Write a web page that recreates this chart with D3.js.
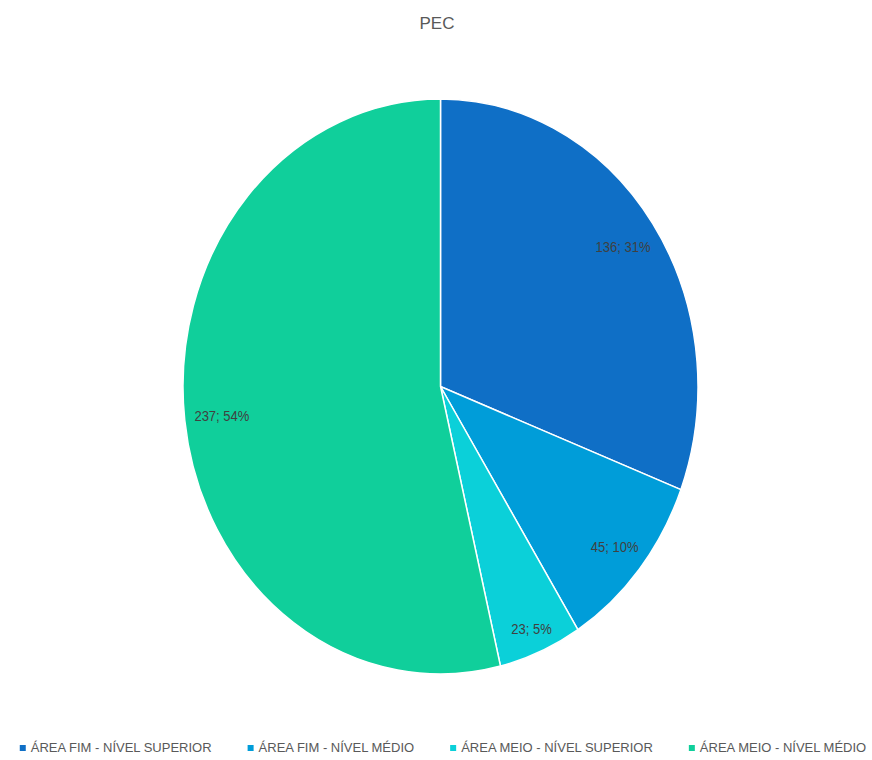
<!DOCTYPE html>
<html>
<head>
<meta charset="utf-8">
<script src="https://cdn.jsdelivr.net/npm/d3@7"></script>
<style>
  html, body { margin: 0; padding: 0; background: #ffffff; }
  svg { display: block; }
  text { font-family: "Liberation Sans", Arial, sans-serif; }
</style>
</head>
<body>
<script>
const title = "PEC";
const categories = [
  "ÁREA FIM - NÍVEL SUPERIOR",
  "ÁREA FIM - NÍVEL MÉDIO",
  "ÁREA MEIO - NÍVEL SUPERIOR",
  "ÁREA MEIO - NÍVEL MÉDIO"
];
const values = [136, 45, 23, 237];
const percentLabels = ["31%", "10%", "5%", "54%"];
const colors = ["#0F6FC6", "#009DD9", "#0BD0D9", "#10CF9B"];

const W = 872, H = 760;
const cx = 440.5, cy = 386.5, rx = 257.5, ry = 287.5;
const sy = ry / rx;

const svg = d3.select("body").append("svg").attr("width", W).attr("height", H);

// Title
svg.append("text")
  .attr("x", W / 2 + 1).attr("y", 29)
  .attr("text-anchor", "middle")
  .attr("font-size", 17)
  .attr("fill", "#595959")
  .text(title);

const data = categories.map((c, i) => ({ cat: c, value: values[i], pct: percentLabels[i], color: colors[i] }));

const pie = d3.pie().value(d => d.value).sort(null);
const arcs = pie(data);
const arc = d3.arc().innerRadius(0).outerRadius(rx);

const g = svg.append("g").attr("transform", `translate(${cx},${cy}) scale(1,${sy})`);
g.selectAll("path").data(arcs).join("path")
  .attr("d", arc)
  .attr("fill", d => d.data.color)
  .attr("stroke", "#ffffff")
  .attr("stroke-width", 1.5)
  .attr("vector-effect", "non-scaling-stroke");

// Labels: inside end placement
const lg = svg.append("g").attr("transform", `translate(${cx},${cy})`);
arcs.forEach(a => {
  const mid = (a.startAngle + a.endAngle) / 2;
  const dx = Math.sin(mid), dy = -Math.cos(mid);
  const t = lg.append("text")
    .attr("text-anchor", "middle")
    .attr("font-size", 13)
    .attr("fill", "#404040")
    .text(`${a.data.value}; ${a.data.pct}`);
  const bb = t.node().getBBox();
  const hw = bb.width / 2 + 4, hh = 11;
  let r = 1.0;
  const fits = (r) => {
    const px = dx * rx * r, py = dy * ry * r;
    for (const [ox, oy] of [[-hw, -hh], [hw, -hh], [-hw, hh], [hw, hh]]) {
      const X = (px + ox) / rx, Y = (py + oy) / ry;
      if (X * X + Y * Y > 0.985 * 0.985) return false;
    }
    return true;
  };
  while (r > 0 && !fits(r)) r -= 0.005;
  const px = dx * rx * r, py = dy * ry * r;
  t.attr("transform", `translate(${px},${py + 6}) scale(1,1.1)`);
});

// Legend
const legend = svg.append("g");
let x = 0;
const items = [];
data.forEach(d => {
  const it = legend.append("g");
  it.append("rect").attr("x", 0).attr("y", -7).attr("width", 6).attr("height", 6).attr("fill", d.color);
  const tt = it.append("text").attr("x", 11).attr("y", 0)
    .attr("font-size", 13).attr("fill", "#595959").text(d.cat);
  const w = 11 + tt.node().getComputedTextLength();
  items.push({ it, w });
});
const gap = 36;
const total = items.reduce((s, o) => s + o.w, 0) + gap * (items.length - 1);
x = (W - total) / 2 + 7;
items.forEach(o => {
  o.it.attr("transform", `translate(${x},752)`);
  x += o.w + gap;
});
</script>
</body>
</html>
